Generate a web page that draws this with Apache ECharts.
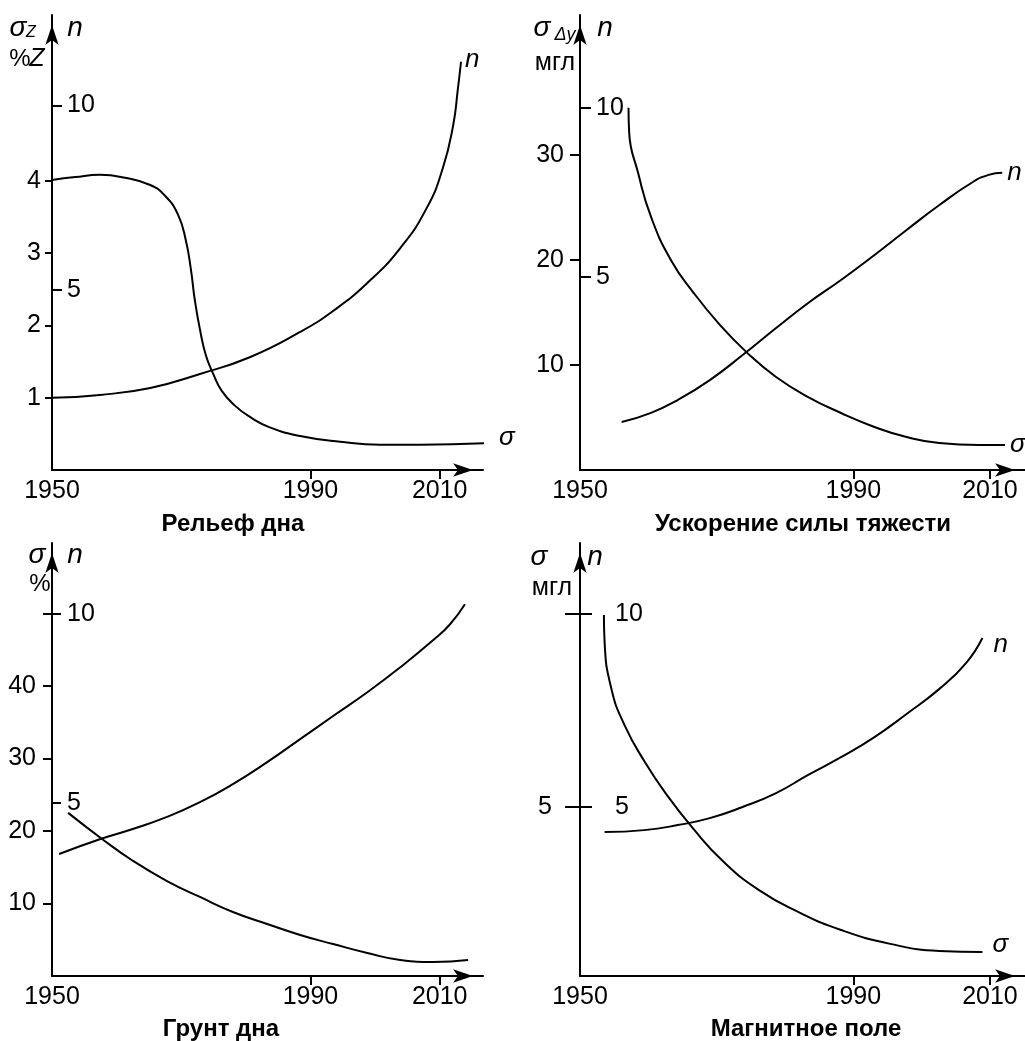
<!DOCTYPE html>
<html>
<head>
<meta charset="utf-8">
<script src="https://cdn.jsdelivr.net/npm/echarts@6/dist/echarts.min.js"></script>
<style>
html, body { margin: 0; padding: 0; background: #fff; }
#chart { width: 1025px; height: 1041px; }
</style>
</head>
<body>
<div id="chart"></div>
<script>
// ---- data ----
var xTicks = [1950, 1990, 2010];
var xTickMarks = [1990, 2010];

// Рельеф дна
var reliefSigmaYears = [1950, 1953.6, 1957.4, 1961.3, 1965.2, 1967.5, 1969.5, 1970.7, 1971.5, 1972.1, 1972.9, 1973.8, 1974.9, 1976.3, 1978.3, 1980.7, 1983.7, 1988.4, 1994.6, 2000.8, 2007, 2017.3];
var reliefSigma      = [4.01, 4.05, 4.08, 4.04, 3.94, 3.79, 3.53, 3.18, 2.77, 2.35, 1.94, 1.59, 1.34, 1.09, 0.89, 0.73, 0.59, 0.47, 0.39, 0.35, 0.35, 0.37];
var reliefNYears = [1950, 1957.4, 1965.2, 1972.9, 1980.7, 1988.4, 1993.5, 1998.8, 2003.9, 2008, 2010.5, 2012.1, 2012.8, 2013.3];
var reliefN      = [2.06, 2.14, 2.33, 2.71, 3.17, 3.85, 4.42, 5.18, 6.13, 7.22, 8.31, 9.48, 10.43, 11.19];
var reliefSigmaTicks = [1, 2, 3, 4];
var reliefNTicks = [5, 10];

// Ускорение силы тяжести
var gravitySigmaYears = [1957.1, 1957.2, 1958.5, 1960.4, 1963.3, 1966.6, 1970.5, 1974.4, 1978.7, 1983.4, 1988.2, 1993.1, 1997.8, 2002.6, 2008.4, 2012.2];
var gravitySigma      = [34.5, 32.1, 28.3, 24.1, 20.0, 16.9, 13.8, 11.2, 8.86, 6.95, 5.43, 4.10, 3.14, 2.57, 2.38, 2.38];
var gravityNYears = [1956.1, 1960.4, 1964.3, 1969, 1973.8, 1978.7, 1983.4, 1988.2, 1993.1, 1997.8, 2002.6, 2007.5, 2009.8, 2011.8];
var gravityN      = [0.71, 0.98, 1.36, 1.95, 2.69, 3.49, 4.23, 4.91, 5.65, 6.39, 7.13, 7.81, 8.02, 8.08];
var gravitySigmaTicks = [10, 20, 30];
var gravityNTicks = [5, 10];

// Грунт дна
var soilSigmaYears = [1952.5, 1957.9, 1962.5, 1967.8, 1972.9, 1978, 1983.3, 1988.4, 1993.5, 1998.8, 2003.9, 2009, 2014.4];
var soilSigma      = [22.5, 18.8, 15.9, 13.1, 10.9, 8.83, 7.17, 5.66, 4.41, 3.17, 2.21, 1.93, 2.21];
var soilNYears = [1951.1, 1957.4, 1962.5, 1967.8, 1972.9, 1978, 1983.3, 1988.4, 1993.5, 1998.8, 2003.9, 2009, 2011.6, 2013.9];
var soilN      = [3.65, 4.04, 4.31, 4.63, 5.02, 5.50, 6.08, 6.69, 7.30, 7.93, 8.59, 9.31, 9.73, 10.26];
var soilSigmaTicks = [10, 20, 30, 40];
var soilNTicks = [5, 10];

// Магнитное поле
var magSigmaYears = [1953.5, 1953.6, 1954.6, 1956.5, 1959.4, 1962.8, 1966.6, 1970.9, 1976.2, 1982, 1988.2, 1995.4, 2002.6, 2008.9];
var magSigma      = [10.68, 9.88, 8.49, 7.43, 6.36, 5.33, 4.35, 3.40, 2.54, 1.89, 1.36, 0.95, 0.74, 0.71];
var magNYears = [1953.6, 1959.4, 1964.3, 1969, 1973.8, 1978.7, 1983.4, 1988.2, 1993.1, 1997.8, 2002.6, 2006.5, 2008.9];
var magN      = [4.35, 4.40, 4.53, 4.71, 5.00, 5.36, 5.83, 6.29, 6.81, 7.41, 8.06, 8.73, 9.38];
var magSigmaTicks = [5];
var magNTicks = [5, 10];

var titles = ['Рельеф дна', 'Ускорение силы тяжести', 'Грунт дна', 'Магнитное поле'];

// ---- layout ----
var SANS = "'Liberation Sans', Arial, sans-serif";
var INK = '#000';
var TICK_FONT = 25;

var panels = [
    { grid: {left: 52, top: 15, width: 431, height: 455}, xMax: 2016.7,
      sMin: 0, sMax: 6.29, nMin: 0.1, nMax: 12.46,
      sTicks: reliefSigmaTicks, nTicks: reliefNTicks, crossTicks: null,
      sLen: 7, sMargin: 11, nLen: 10, nMargin: 15, crossLen: 0,
      sigma: [reliefSigmaYears, reliefSigma], n: [reliefNYears, reliefN],
      sLabel: {distance: 15, offset: [0, -6]}, nLabel: {distance: 4, offset: [0, -2]} },
    { grid: {left: 580, top: 15, width: 452, height: 455}, xMax: 2015.13,
      sMin: 0, sMax: 43.33, nMin: -0.71, nMax: 12.75,
      sTicks: gravitySigmaTicks, nTicks: gravityNTicks, crossTicks: null,
      sLen: 10, sMargin: 16, nLen: 11, nMargin: 16, crossLen: 0,
      sigma: [gravitySigmaYears, gravitySigma], n: [gravityNYears, gravityN],
      sLabel: {distance: 5, offset: [0, 0]}, nLabel: {distance: 5, offset: [0, 0]} },
    { grid: {left: 52, top: 543, width: 431, height: 433}, xMax: 2016.7,
      sMin: 0, sMax: 59.72, nMin: 0.42, nMax: 11.88,
      sTicks: soilSigmaTicks, nTicks: soilNTicks, crossTicks: [10],
      sLen: 9, sMargin: 16, nLen: 9, nMargin: 15, crossLen: 9,
      sigma: [soilSigmaYears, soilSigma], n: [soilNYears, soilN],
      sLabel: null, nLabel: null },
    { grid: {left: 580, top: 543, width: 452, height: 433}, xMax: 2015.13,
      sMin: 0, sMax: 12.81, nMin: 0.62, nMax: 11.84,
      sTicks: magSigmaTicks, nTicks: magNTicks, crossTicks: [10],
      sLen: 15, sMargin: 28, nLen: 12, nMargin: 35, crossLen: 15,
      sigma: [magSigmaYears, magSigma], n: [magNYears, magN],
      sLabel: {distance: 10, offset: [0, -7]}, nLabel: {distance: 11, offset: [0, 7]} }
];

function zip(xs, ys) {
    var out = [];
    for (var i = 0; i < xs.length; i++) out.push([xs[i], ys[i]]);
    return out;
}
function plain(v) { return String(v); }

var grids = [], xAxes = [], yAxes = [], series = [];
var arrow = {symbol: ['none', 'arrow'], symbolSize: [10, 20], symbolOffset: [0, -10]};

panels.forEach(function (p, i) {
    grids.push(Object.assign({containLabel: false}, p.grid));
    xAxes.push({
        type: 'value', gridIndex: i, min: 1950, max: p.xMax,
        axisLine: Object.assign({show: true, onZero: false, lineStyle: {color: INK, width: 2}}, arrow),
        axisTick: {show: true, customValues: xTickMarks, length: 9, lineStyle: {color: INK, width: 2}},
        axisLabel: {customValues: xTicks, formatter: plain, color: INK, fontFamily: SANS, fontSize: TICK_FONT, margin: 9},
        splitLine: {show: false}
    });
    var sIdx = yAxes.length;
    yAxes.push({
        type: 'value', gridIndex: i, position: 'left', min: p.sMin, max: p.sMax,
        axisLine: Object.assign({show: true, onZero: false, lineStyle: {color: INK, width: 2}}, arrow),
        axisTick: {show: true, customValues: p.sTicks, length: p.sLen, lineStyle: {color: INK, width: 2}},
        axisLabel: {customValues: p.sTicks, formatter: plain, color: INK, fontFamily: SANS, fontSize: TICK_FONT, margin: p.sMargin},
        splitLine: {show: false}
    });
    var nIdx = yAxes.length;
    yAxes.push({
        type: 'value', gridIndex: i, position: 'left', min: p.nMin, max: p.nMax,
        axisLine: {show: false, onZero: false},
        axisTick: {show: true, inside: true, customValues: p.nTicks, length: p.nLen, lineStyle: {color: INK, width: 2}},
        axisLabel: {inside: true, customValues: p.nTicks, formatter: plain, color: INK, fontFamily: SANS, fontSize: TICK_FONT, margin: p.nMargin},
        splitLine: {show: false}
    });
    if (p.crossTicks) {
        // n ticks that also cross to the left of the axis
        yAxes.push({
            type: 'value', gridIndex: i, position: 'left', min: p.nMin, max: p.nMax,
            axisLine: {show: false, onZero: false},
            axisTick: {show: true, customValues: p.crossTicks, length: p.crossLen, lineStyle: {color: INK, width: 2}},
            axisLabel: {show: false},
            splitLine: {show: false}
        });
    }
    var base = {
        type: 'line', xAxisIndex: i, showSymbol: false, smooth: 0.5,
        clip: false, silent: true, lineStyle: {color: INK, width: 2}, itemStyle: {color: INK}
    };
    var endStyle = {fontFamily: SANS, fontStyle: 'italic', fontSize: 26, color: INK, position: 'right'};
    series.push(Object.assign({}, base, {
        name: 'σ', yAxisIndex: sIdx, data: zip(p.sigma[0], p.sigma[1]),
        endLabel: p.sLabel ? Object.assign({show: true, formatter: 'σ'}, endStyle, p.sLabel) : {show: false}
    }));
    series.push(Object.assign({}, base, {
        name: 'n', yAxisIndex: nIdx, data: zip(p.n[0], p.n[1]),
        endLabel: p.nLabel ? Object.assign({show: true, formatter: 'n'}, endStyle, p.nLabel) : {show: false}
    }));
});

function txt(x, y, text, font, align) {
    return {type: 'text', x: x, y: y, silent: true,
        style: {text: text, font: font, fill: INK, align: align || 'center', verticalAlign: 'middle'}};
}
var ital = 'italic 28px ' + SANS;
var sub = 'italic 16px ' + SANS;
var unit = '25px ' + SANS;
var titleFont = 'bold 24px ' + SANS;

var graphics = [
    txt(18, 28, 'σ', ital), txt(31, 33, 'Z', sub), txt(75, 28, 'n', ital),
    txt(20, 59, '%', '24px ' + SANS), txt(37, 59, 'Z', 'italic 25px ' + SANS),
    txt(542, 28, 'σ', ital), txt(565, 35, 'Δy', 'italic 18px ' + SANS), txt(605, 28, 'n', ital), txt(555, 63, 'мгл', unit),
    txt(37, 555, 'σ', ital), txt(75, 555, 'n', ital), txt(40, 584, '%', '24px ' + SANS),
    txt(539, 557, 'σ', ital), txt(595, 557, 'n', ital), txt(552, 588, 'мгл', unit),
    txt(233, 524, titles[0], titleFont), txt(803, 524, titles[1], titleFont),
    txt(221, 1029, titles[2], titleFont), txt(806, 1029, titles[3], titleFont)
];

var chart = echarts.init(document.getElementById('chart'), null, {renderer: 'canvas'});
chart.setOption({
    animation: false,
    backgroundColor: '#fff',
    grid: grids,
    xAxis: xAxes,
    yAxis: yAxes,
    series: series,
    graphic: graphics
});
</script>
</body>
</html>
